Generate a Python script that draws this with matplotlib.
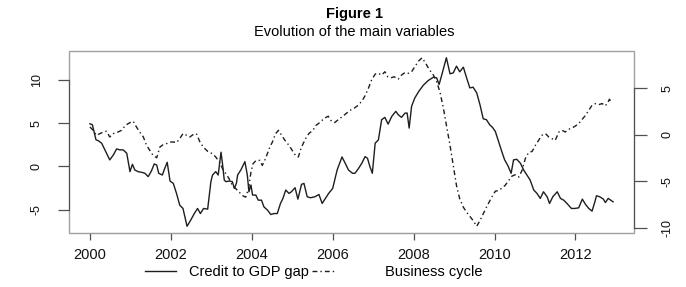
import matplotlib
matplotlib.use("Agg")
import matplotlib.pyplot as plt
import numpy as np

plt.rcParams['font.family'] = ['Liberation Sans', 'DejaVu Sans']

# ---------------- data ----------------
credit_years = [2000.00, 2000.06, 2000.15, 2000.21, 2000.29, 2000.37, 2000.49, 2000.58, 2000.66, 2000.74,
                2000.82, 2000.91, 2000.99, 2001.05, 2001.11, 2001.19, 2001.28, 2001.36, 2001.44, 2001.52,
                2001.59, 2001.65, 2001.70, 2001.79, 2001.85, 2001.91, 2001.98, 2002.06, 2002.14, 2002.22,
                2002.30, 2002.40, 2002.49, 2002.58, 2002.66, 2002.73, 2002.81, 2002.91,
                2002.99, 2003.03, 2003.11, 2003.17, 2003.24, 2003.28, 2003.32, 2003.36, 2003.44, 2003.52,
                2003.57, 2003.62, 2003.65, 2003.73, 2003.83, 2003.89, 2003.93, 2003.98, 2004.02, 2004.10,
                2004.16, 2004.24, 2004.30, 2004.39, 2004.47, 2004.55, 2004.63, 2004.71, 2004.77, 2004.84,
                2004.92, 2004.98, 2005.07, 2005.14, 2005.23, 2005.29, 2005.37, 2005.45, 2005.56, 2005.66,
                2005.74, 2005.82, 2005.90, 2006.00, 2006.11, 2006.23, 2006.31, 2006.39, 2006.49,
                2006.55, 2006.63, 2006.72, 2006.80, 2006.86, 2006.92, 2006.98, 2007.05, 2007.13, 2007.21,
                2007.29, 2007.37, 2007.46, 2007.56, 2007.62, 2007.70, 2007.79, 2007.84, 2007.89, 2007.95,
                2008.03, 2008.13, 2008.24, 2008.36, 2008.49, 2008.57, 2008.63, 2008.71, 2008.81, 2008.90,
                2008.98, 2009.06, 2009.14, 2009.23, 2009.31, 2009.39, 2009.47, 2009.56, 2009.64, 2009.72,
                2009.80, 2009.88, 2009.95,
                2010.02, 2010.10, 2010.18, 2010.25, 2010.33, 2010.41, 2010.47, 2010.55, 2010.64, 2010.72,
                2010.80, 2010.88, 2010.97, 2011.05, 2011.13, 2011.21, 2011.30, 2011.36, 2011.44, 2011.55,
                2011.63, 2011.71, 2011.79, 2011.90, 2011.98, 2012.08, 2012.17, 2012.25, 2012.33, 2012.41,
                2012.48, 2012.52, 2012.60, 2012.69, 2012.74, 2012.81, 2012.87, 2012.93]
credit_gap = [4.94, 4.83, 3.08, 2.97, 2.69, 1.92, 0.76, 1.34, 2.03, 1.92,
              1.92, 1.53, -0.60, 0.25, -0.41, -0.60, -0.68, -0.79, -1.18, -0.52,
              0.29, 0.17, -0.79, -0.99, -0.21, 0.48, -1.69, -1.96, -3.12, -4.48,
              -4.86, -6.92, -6.22, -5.45, -4.86, -5.45, -4.86, -4.94,
              -1.76, -0.99, -0.60, -0.99, 1.65, 0.17, -1.57, -1.76, -1.69, -1.76,
              -2.54, -1.96, -0.99, -0.41, 0.56, -0.99, -2.93, -2.15, -3.31, -3.31,
              -3.90, -3.90, -4.67, -5.06, -5.56, -5.45, -5.45, -4.28, -3.70, -2.73,
              -3.12, -2.93, -2.46, -3.78, -2.07, -1.96, -3.51, -3.62, -3.51, -3.24,
              -4.28, -3.70, -3.12, -2.54, -0.41, 1.10, 0.37, -0.41, -0.79,
              -0.79, -0.29, 0.37, 1.14, 0.95, -0.02, -0.79, 2.69, 3.08, 5.41,
              5.68, 4.90, 5.79, 6.38, 5.99, 5.68, 6.18, 6.18, 4.44, 6.96,
              7.93, 8.70, 9.40, 9.94, 10.33, 10.25, 9.48, 10.83, 12.58, 10.72,
              10.83, 11.61, 10.95, 11.49, 10.25, 9.09, 9.17, 8.51, 7.15, 5.52,
              5.41, 4.83, 4.52,
              4.05, 2.89, 1.72, 0.76, 0.10, -0.79, 0.76, 0.83, 0.37, -0.41,
              -0.99, -1.57, -2.73, -3.12, -3.70, -2.93, -3.51, -4.28, -3.51, -2.93,
              -3.70, -3.90, -4.28, -4.86, -4.86, -4.79, -3.78, -4.40, -4.86, -5.17,
              -4.09, -3.39, -3.51, -3.78, -4.17, -3.70, -3.90, -4.09]

cycle_years = [2000.00, 2000.08, 2000.16, 2000.25, 2000.33, 2000.41, 2000.49, 2000.58, 2000.66, 2000.78,
               2000.88, 2000.99, 2001.07, 2001.15, 2001.23, 2001.32, 2001.40, 2001.48, 2001.56, 2001.65,
               2001.73, 2001.81, 2001.89, 2001.98, 2002.06, 2002.14, 2002.22, 2002.30, 2002.39, 2002.47,
               2002.55, 2002.63, 2002.72, 2002.80, 2002.91,
               2003.03, 2003.11, 2003.20, 2003.28, 2003.36, 2003.44, 2003.52, 2003.61, 2003.69, 2003.77,
               2003.85, 2003.92, 2003.98, 2004.03, 2004.11, 2004.20, 2004.26, 2004.34, 2004.43, 2004.51,
               2004.59, 2004.66, 2004.74, 2004.82, 2004.92, 2005.00, 2005.08, 2005.15, 2005.23, 2005.33,
               2005.41, 2005.51, 2005.59, 2005.70, 2005.78, 2005.89, 2005.97, 2006.05, 2006.15, 2006.23,
               2006.33, 2006.43, 2006.52,
               2006.63, 2006.72, 2006.80, 2006.88, 2006.96, 2007.05, 2007.13, 2007.21, 2007.29, 2007.36,
               2007.44, 2007.52, 2007.62, 2007.70, 2007.79, 2007.87, 2007.95, 2008.03, 2008.12, 2008.21,
               2008.30, 2008.38, 2008.49, 2008.57, 2008.65, 2008.73, 2008.81, 2008.90, 2008.98, 2009.06,
               2009.14, 2009.23, 2009.31, 2009.39, 2009.47, 2009.56, 2009.64, 2009.72, 2009.80,
               2009.93, 2010.02, 2010.10, 2010.18, 2010.26, 2010.35, 2010.43, 2010.51, 2010.60, 2010.68,
               2010.76, 2010.84, 2010.93, 2011.01, 2011.09, 2011.17, 2011.26, 2011.34, 2011.42, 2011.50,
               2011.59, 2011.67, 2011.75, 2011.83, 2011.92, 2012.00, 2012.08, 2012.17, 2012.25, 2012.33,
               2012.41, 2012.50, 2012.58, 2012.66, 2012.73, 2012.79, 2012.84, 2012.89]
business_cycle = [0.84, 0.48, -0.05, 0.13, 0.30, 0.38, -0.23, 0.13, 0.23, 0.48,
                  1.02, 1.31, 1.45, 0.84, 0.30, -0.23, -1.13, -1.67, -2.20, -2.46,
                  -1.31, -1.06, -0.95, -0.77, -0.77, -0.84, -0.41, 0.13, -0.05, -0.23,
                  0.02, 0.13, -0.77, -1.31, -1.77,
                  -2.03, -2.38, -2.92, -3.64, -4.18, -4.71, -5.43, -5.79, -6.15, -6.51,
                  -6.68, -5.79, -4.00, -3.10, -2.74, -2.74, -3.28, -2.56, -1.49, -0.77,
                  0.13, 0.48, -0.05, -0.59, -1.13, -1.67, -2.20, -2.38, -1.31, -0.41,
                  0.13, 0.48, 1.02, 1.38, 1.74, 1.99, 1.45, 1.31, 1.67, 1.92,
                  2.28, 2.63, 2.81,
                  3.17, 3.60, 4.18, 4.96, 5.86, 6.51, 6.59, 6.40, 6.76, 6.22,
                  6.11, 6.22, 5.97, 6.40, 6.68, 6.59, 6.76, 7.29, 7.90, 8.26,
                  7.65, 7.04, 6.40, 5.68, 4.61, 2.99, 1.02, -1.13, -3.28, -5.43,
                  -6.86, -7.76, -8.30, -8.73, -9.19, -9.80, -9.19, -8.48, -7.76,
                  -6.69, -6.04, -5.97, -5.72, -5.43, -4.89, -4.43, -4.28, -4.53, -3.82,
                  -2.56, -1.92, -1.77, -1.13, -0.59, -0.05, 0.13, -0.23, -0.41, -0.59,
                  0.30, 0.48, 0.30, 0.59, 0.73, 0.95, 1.20, 1.67, 2.10, 2.63,
                  3.17, 3.35, 3.24, 3.35, 3.10, 3.35, 3.82, 3.46]

x_ticks = [2000, 2002, 2004, 2006, 2008, 2010, 2012]
left_ticks = [-5, 0, 5, 10]
right_ticks = [-10, -5, 0, 5]
series_labels = ["Credit to GDP gap", "Business cycle"]
title_main = "Figure 1"
title_sub = "Evolution of the main variables"

# ---------------- figure ----------------
W, H = 686, 287
fig = plt.figure(figsize=(W / 100, H / 100), dpi=100)
L, R, T, B = 69, 634, 51, 233
ax = fig.add_axes([L / W, 1 - B / H, (R - L) / W, (B - T) / H])
ax2 = ax.twinx()

line_col = '#1e1e1e'
l1, = ax.plot(credit_years, credit_gap, color=line_col, lw=1.0, solid_joinstyle='round')
l2, = ax2.plot(cycle_years, business_cycle, color=line_col, lw=1.0,
               linestyle=(0, (3.5, 2.2, 1.0, 2.2)))

def padded(vals, f=0.04):
    lo, hi = min(vals), max(vals)
    d = (hi - lo) * f
    return lo - d, hi + d

ax.set_xlim(*padded(credit_years + cycle_years))
ax.set_ylim(*padded(credit_gap))
ax2.set_ylim(*padded(business_cycle))

box_col = '#a0a0a0'
axis_col = '#505050'
for a in (ax, ax2):
    for s in a.spines.values():
        s.set_visible(False)
# full gray box
ax.patch.set_edgecolor(box_col)
ax.patch.set_linewidth(1.0)
ax.patch.set_facecolor('none')
ax2.patch.set_visible(False)

# darker axis lines over the tick range
ax.spines['left'].set_visible(True)
ax.spines['left'].set_bounds(left_ticks[0], left_ticks[-1])
ax.spines['left'].set_color(axis_col)
ax.spines['bottom'].set_visible(True)
ax.spines['bottom'].set_bounds(x_ticks[0], x_ticks[-1])
ax.spines['bottom'].set_color(box_col)
ax2.spines['right'].set_visible(True)
ax2.spines['right'].set_bounds(right_ticks[0], right_ticks[-1])
ax2.spines['right'].set_color(axis_col)

ax.set_xticks(x_ticks)
ax.set_xticklabels([str(v) for v in x_ticks])
ax.set_yticks(left_ticks)
ax.set_yticklabels([str(v) for v in left_ticks])
ax2.set_yticks(right_ticks)
ax2.set_yticklabels([str(v) for v in right_ticks])

ax.tick_params(axis='x', direction='out', length=5, width=0.9, color=axis_col,
               labelsize=10.5, pad=6, labelcolor='#111111')
ax.tick_params(axis='y', direction='out', length=8, width=0.9, color=axis_col,
               labelsize=9, pad=11, labelcolor='#111111')
ax2.tick_params(axis='y', direction='out', length=9, width=0.9, color=axis_col,
                labelsize=9, pad=11, labelcolor='#111111')
for lab in ax.get_yticklabels():
    lab.set_rotation(90)
    lab.set_va('center')
for lab in ax2.get_yticklabels():
    lab.set_rotation(90)
    lab.set_va('center')

# titles
fig.text(354 / W, 1 - 14 / H, title_main, ha='center', va='center',
         fontsize=10.5, fontweight='bold')
fig.text(354 / W, 1 - 32 / H, title_sub, ha='center', va='center', fontsize=10.5)

# legend (R-style, horizontal, no box)
fs = 10.5
leg_y = 1 - 272 / H
lg1 = fig.legend(handles=[l1], labels=[series_labels[0]], loc='center left',
                 bbox_to_anchor=(145 / W, leg_y), frameon=False, fontsize=fs,
                 handlelength=2.1, handletextpad=0.95, borderpad=0, borderaxespad=0)
lg2 = fig.legend(handles=[l2], labels=[series_labels[1]], loc='center left',
                 bbox_to_anchor=(312 / W, leg_y), frameon=False, fontsize=fs,
                 handlelength=1.6, handletextpad=3.4, borderpad=0, borderaxespad=0)

fig.savefig('out.png', dpi=100)
